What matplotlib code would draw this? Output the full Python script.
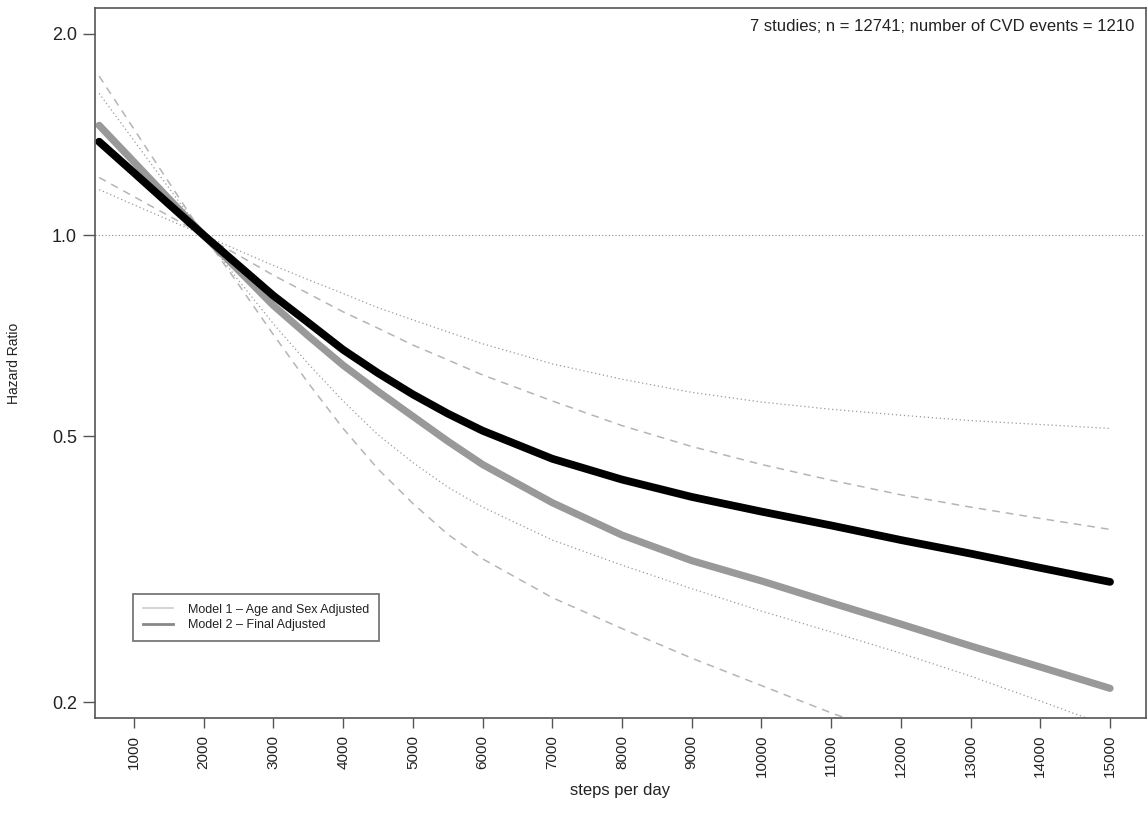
import matplotlib
matplotlib.use("Agg")
import matplotlib.pyplot as plt
from matplotlib.lines import Line2D
from matplotlib.ticker import FixedLocator, FixedFormatter, NullLocator

plt.rcParams['font.family'] = ['Liberation Sans', 'DejaVu Sans']

# ---- data ----
steps = [500, 1000, 1500, 2000, 2500, 3000, 3500, 4000, 4500, 5000, 5500,
         6000, 7000, 8000, 9000, 10000, 11000, 12000, 13000, 14000, 15000]

hr_black = [1.38, 1.240, 1.113, 1.0, 0.901, 0.812, 0.740, 0.674, 0.622, 0.578, 0.541,
            0.510, 0.463, 0.431, 0.406, 0.386, 0.368, 0.350, 0.334, 0.318, 0.303]
black_upper = [1.63, 1.385, 1.177, 1.0, 0.949, 0.901, 0.858, 0.818, 0.779, 0.747, 0.717,
               0.688, 0.642, 0.609, 0.582, 0.563, 0.549, 0.538, 0.528, 0.521, 0.514]
black_lower = [1.17, 1.110, 1.054, 1.0, 0.856, 0.737, 0.642, 0.565, 0.503, 0.457, 0.420,
               0.392, 0.350, 0.321, 0.296, 0.274, 0.255, 0.237, 0.219, 0.201, 0.184]

hr_gray = [1.46, 1.287, 1.134, 1.0, 0.886, 0.785, 0.707, 0.639, 0.584, 0.536, 0.492,
           0.454, 0.398, 0.356, 0.326, 0.304, 0.282, 0.262, 0.243, 0.226, 0.210]
gray_upper = [1.73, 1.441, 1.2, 1.0, 0.933, 0.871, 0.818, 0.768, 0.726, 0.685, 0.651,
              0.618, 0.565, 0.519, 0.483, 0.454, 0.430, 0.409, 0.392, 0.377, 0.363]
gray_lower = [1.22, 1.142, 1.069, 1.0, 0.844, 0.710, 0.601, 0.514, 0.447, 0.397, 0.357,
              0.328, 0.287, 0.258, 0.233, 0.212, 0.193, 0.177, 0.162, 0.149, 0.138]

x_ticks = list(range(1000, 15001, 1000))
y_ticks = [0.2, 0.5, 1.0, 2.0]
y_tick_labels = ["0.2", "0.5", "1.0", "2.0"]
annotation = "7 studies; n = 12741; number of CVD events = 1210"
legend_labels = ["Model 1 \u2013 Age and Sex Adjusted", "Model 2 \u2013 Final Adjusted"]

# ---- figure ----
fig = plt.figure(figsize=(11.48, 8.16), dpi=100)
ax = fig.add_axes([95 / 1148, 1 - 718 / 816, (1146 - 95) / 1148, (718 - 8) / 816])
ax.set_yscale('log')

ax.axhline(1.0, color='#888888', lw=0.8, ls=(0, (1, 2)))

dot = (0, (1, 2.2))
dash = (0, (5, 4))
ax.plot(steps, black_upper, color='#9a9a9a', lw=0.9, ls=dot)
ax.plot(steps, black_lower, color='#9a9a9a', lw=0.9, ls=dot)
ax.plot(steps, gray_upper, color='#b5b5b5', lw=1.1, ls=dash)
ax.plot(steps, gray_lower, color='#b5b5b5', lw=1.1, ls=dash)
ax.plot(steps, hr_gray, color='#999999', lw=5.2, solid_capstyle='round', solid_joinstyle='round')
ax.plot(steps, hr_black, color='#000000', lw=5.6, solid_capstyle='round', solid_joinstyle='round')

ax.set_xlim(441, 15516)
ax.set_ylim(0.1896, 2.187)

ax.yaxis.set_major_locator(FixedLocator(y_ticks))
ax.yaxis.set_major_formatter(FixedFormatter(y_tick_labels))
ax.yaxis.set_minor_locator(NullLocator())
ax.set_xticks(x_ticks)
ax.set_xticklabels([str(v) for v in x_ticks], rotation=90)

frame_col = '#555555'
for sp in ax.spines.values():
    sp.set_color(frame_col)
    sp.set_linewidth(1.2)
ax.tick_params(axis='y', length=9, width=1.0, color=frame_col, labelsize=13, labelcolor='#222222', pad=4)
ax.tick_params(axis='x', length=7, width=1.0, color=frame_col, labelsize=11, labelcolor='#222222', pad=5)

ax.set_ylabel("Hazard Ratio", fontsize=10, color='#222222', labelpad=22)
ax.set_xlabel("steps per day", fontsize=12, color='#222222', labelpad=4)

ax.text(0.989, 0.985, annotation, transform=ax.transAxes, ha='right', va='top',
        fontsize=12, color='#222222')

handles = [Line2D([], [], color='#cccccc', lw=1.2),
           Line2D([], [], color='#888888', lw=2.0)]
leg = ax.legend(handles, legend_labels, loc='lower left',
                bbox_to_anchor=(0.036, 0.108), fontsize=9, frameon=True,
                fancybox=False, edgecolor=frame_col, handlelength=2.4,
                borderpad=0.8, labelspacing=0.3, handletextpad=1.2, borderaxespad=0)
leg.get_frame().set_linewidth(1.3)
for t in leg.get_texts():
    t.set_color('#222222')

fig.savefig("out.png", dpi=100)
